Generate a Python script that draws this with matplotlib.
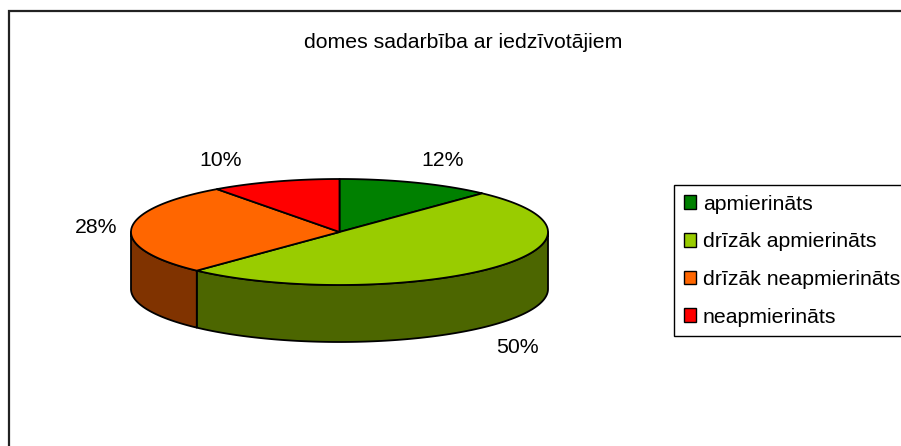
import numpy as np
import matplotlib
matplotlib.use("Agg")
import matplotlib.pyplot as plt
from matplotlib.patches import Polygon, Patch

plt.rcParams['font.family'] = ['Liberation Sans', 'DejaVu Sans']

# ---- data ----
title = "domes sadarbība ar iedzīvotājiem"
categories = ["apmierināts", "drīzāk apmierināts", "drīzāk neapmierināts", "neapmierināts"]
values = [12, 50, 28, 10]

# ---- style ----
top_colors = ["#008000", "#99CC00", "#FF6600", "#FF0000"]
side_colors = ["#004000", "#4C6600", "#803300", "#800000"]
label_nudge = [(13, 0), (0, 6), (0, 0), (-43, 2)]

W, H = 901, 446
fig = plt.figure(figsize=(W / 100, H / 100), dpi=100)
ax = fig.add_axes([0, 0, 1, 1])
ax.set_xlim(0, W)
ax.set_ylim(H, 0)
ax.axis('off')

# chart border (right/bottom outside the picture)
ax.plot([9, 9, W + 5], [H + 5, 11, 11], color="#222222", lw=1.6, solid_joinstyle='miter')

cx, cy, a, b, depth = 339.5, 232.0, 208.5, 53.0, 57.0

def pt(theta_deg, dy=0.0):
    t = np.radians(theta_deg)
    return cx + a * np.cos(t), cy - b * np.sin(t) + dy

total = float(sum(values))
cum = np.concatenate([[0], np.cumsum(values)]) / total
starts = 90 - 360 * cum[:-1]
ends = 90 - 360 * cum[1:]

edge_kw = dict(edgecolor="black", lw=1.3, joinstyle='round')

# sides (front part only)
for i in range(len(values)):
    ts, te = starts[i], ends[i]
    for flo, fhi in [(-180, 0), (-540, -360), (180, 360)]:
        lo, hi = max(te, flo), min(ts, fhi)
        if hi - lo <= 0:
            continue
        th = np.linspace(lo, hi, 120)
        top = np.array([pt(t) for t in th])
        bot = np.array([pt(t, depth) for t in th[::-1]])
        ax.add_patch(Polygon(np.vstack([top, bot]), closed=True,
                             facecolor=side_colors[i], zorder=2, **edge_kw))

# tops
for i in range(len(values)):
    th = np.linspace(starts[i], ends[i], 200)
    arc = np.array([pt(t) for t in th])
    poly = np.vstack([[cx, cy], arc, [cx, cy]])
    ax.add_patch(Polygon(poly, closed=True, facecolor=top_colors[i], zorder=3, **edge_kw))

# percent labels
fs = 15.3
for i in range(len(values)):
    mid = (starts[i] + ends[i]) / 2
    t = np.radians(mid)
    x = cx + 1.17 * a * np.cos(t)
    y = cy - 1.45 * b * np.sin(t)
    if np.sin(t) < 0:
        y += depth
    x += label_nudge[i][0]
    y += label_nudge[i][1]
    ax.text(x, y, f"{values[i] / total * 100:.0f}%", ha='center', va='center',
            fontsize=fs, color="black", zorder=5)

ax.text(463, 43, title, ha='center', va='center', fontsize=fs, color="black")

handles = [Patch(facecolor=c, edgecolor='black', lw=1.0) for c in top_colors]
leg = ax.legend(handles, categories, loc='upper left',
                bbox_to_anchor=(674 / W, 1 - 185 / H), bbox_transform=fig.transFigure,
                fontsize=fs, frameon=True, fancybox=False, framealpha=1,
                edgecolor='black', handlelength=0.6, handleheight=0.6,
                handletextpad=0.3, borderpad=0.45, labelspacing=0.88,
                borderaxespad=0)
leg.get_frame().set_linewidth(1.0)

fig.savefig("out.png", dpi=100)
